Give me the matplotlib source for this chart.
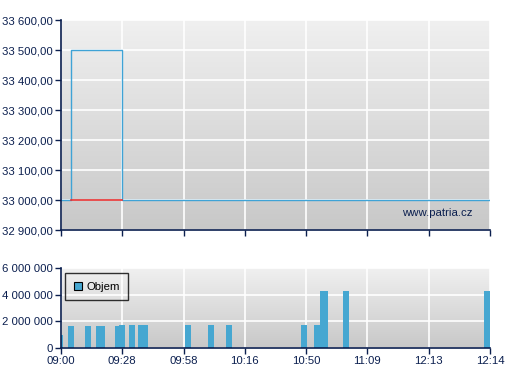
import matplotlib
matplotlib.use("Agg")
import matplotlib.pyplot as plt
import numpy as np
from matplotlib.ticker import FuncFormatter, FixedLocator
from matplotlib.patches import Patch
from matplotlib.colors import LinearSegmentedColormap

# ---- data ----
time_labels = ["09:00", "09:28", "09:58", "10:16", "10:50", "11:09", "12:13", "12:14"]
price_x = [0.0, 0.163, 0.163, 1.0, 1.0, 7.0]
price_y = [33000, 33000, 33500, 33500, 33000, 33000]
low_x = [0.163, 1.0]
low_y = [33000, 33000]
vol_x = [-0.065, 0.114, 0.392, 0.571, 0.620, 0.881, 0.946, 1.109, 1.256, 1.321,
         2.023, 2.398, 2.692, 3.916, 4.128, 4.226, 4.259, 4.601, 6.902]
vol_y = [1.0e6, 1.675e6, 1.675e6, 1.675e6, 1.675e6, 1.675e6, 1.75e6, 1.75e6, 1.75e6, 1.75e6,
         1.75e6, 1.75e6, 1.75e6, 1.75e6, 1.75e6, 4.3e6, 4.3e6, 4.3e6, 4.3e6]

NAVY = "#0b1f4f"
BLUE_LINE = "#3fa3d6"
BAR = "#46a7d1"
RED = "#e53030"
FS = 8.2

plt.rcParams['font.family'] = ['Liberation Sans', 'DejaVu Sans']
plt.rcParams['font.size'] = FS

fig = plt.figure(figsize=(5.07, 3.80), dpi=100)
W, H = 507, 380
def rect(l, t, r, b):
    return [l / W, 1 - b / H, (r - l) / W, (b - t) / H]

ax1 = fig.add_axes(rect(61, 20, 490, 230))
ax2 = fig.add_axes(rect(61, 268, 490, 348))

grad = np.linspace(0, 1, 256).reshape(-1, 1)
cmap = LinearSegmentedColormap.from_list("g", ["#f0f0f0", "#c8c8c8"])

def style(ax):
    ax.imshow(grad, cmap=cmap, aspect='auto', extent=[0, 1, 0, 1],
              transform=ax.transAxes, zorder=0)
    ax.set_xlim(0, 7)
    ax.xaxis.set_major_locator(FixedLocator(range(8)))
    ax.grid(True, color="white", linewidth=1.2, zorder=1)
    ax.set_axisbelow(False)
    for s in ["top", "right"]:
        ax.spines[s].set_visible(False)
    for s in ["left", "bottom"]:
        ax.spines[s].set_color(NAVY)
        ax.spines[s].set_linewidth(1.2)
        ax.spines[s].set_zorder(5)
    ax.tick_params(axis='both', colors=NAVY, direction='out', length=4, width=1,
                   labelcolor=NAVY, labelsize=FS, pad=2)

style(ax1)
ax1.set_ylim(32900, 33600)
ax1.yaxis.set_major_locator(FixedLocator(np.arange(32900, 33601, 100)))
def fmt_price(v, p):
    return f"{v:,.2f}".replace(",", " ").replace(".", ",")
ax1.yaxis.set_major_formatter(FuncFormatter(fmt_price))
ax1.set_xticklabels([])
ax1.plot(price_x, price_y, color=BLUE_LINE, linewidth=1.0, zorder=3)
ax1.plot(low_x, low_y, color=RED, linewidth=1.2, zorder=4)
ax1.text(0.96, 0.08, "www.patria.cz", transform=ax1.transAxes, ha='right', va='center',
         color=NAVY, fontsize=FS, zorder=4)

style(ax2)
ax2.set_ylim(0, 6e6)
ax2.yaxis.set_major_locator(FixedLocator([0, 2e6, 4e6, 6e6]))
ax2.yaxis.set_major_formatter(FuncFormatter(lambda v, p: f"{int(v):,}".replace(",", " ")))
ax2.set_xticklabels(time_labels)
ax2.bar(vol_x, vol_y, width=0.098, align='edge', color=BAR, zorder=3)
leg = ax2.legend(handles=[Patch(facecolor=BAR, edgecolor="black", linewidth=0.8, label="Objem")],
                 loc='upper left', bbox_to_anchor=(0.0093, 0.9375), frameon=True, fancybox=False,
                 handlelength=0.7, handleheight=0.7, handletextpad=0.4, borderpad=0.75,
                 borderaxespad=0, fontsize=FS)
leg.get_frame().set_edgecolor("black")
leg.get_frame().set_facecolor("none")
leg.get_frame().set_linewidth(1.0)
leg.set_zorder(6)

fig.savefig("out.png", dpi=100)
